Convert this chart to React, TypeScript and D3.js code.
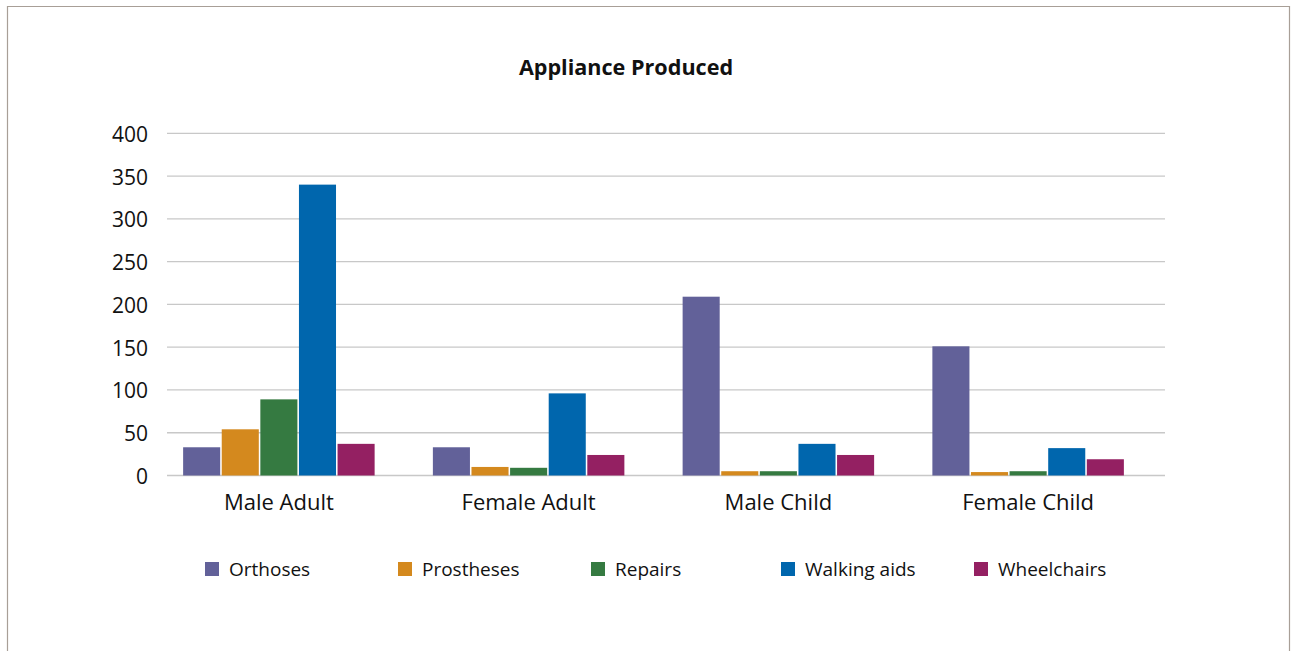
import React from "react";
import * as d3 from "d3";

const categories = ["Male Adult", "Female Adult", "Male Child", "Female Child"];
const seriesNames = ["Orthoses", "Prostheses", "Repairs", "Walking aids", "Wheelchairs"];
const orthoses = [33, 33, 209, 151];
const prostheses = [54, 10, 5, 4];
const repairs = [89, 9, 5, 5];
const walkingAids = [340, 96, 37, 32];
const wheelchairs = [37, 24, 24, 19];
const seriesColors = ["#626199", "#d4891e", "#357a41", "#0066ad", "#942062"];
const yTicks = [0, 50, 100, 150, 200, 250, 300, 350, 400];
const legendX = [205, 398, 591, 781, 974];

const seriesValues = [orthoses, prostheses, repairs, walkingAids, wheelchairs];

export default function App() {
  const W = 1292;
  const H = 651;
  const font = "'Open Sans', 'Noto Sans', sans-serif";
  const x = d3.scaleBand<string>().domain(categories).range([154, 1153]);
  const groupW = 191.5;
  const inner = d3
    .scaleBand<string>()
    .domain(seriesNames)
    .range([0, groupW])
    .paddingInner(0.04);
  const y = d3.scaleLinear().domain([0, 400]).range([475.5, 133.3]);

  return (
    <div style={{ position: "fixed", left: 0, top: 0 }}>
      <svg width={W} height={H} style={{ display: "block", background: "#fff" }}>
        <path d="M7.5,651 V6.5 H1289.5 V651" fill="none" stroke="#a89f97" strokeWidth={1.2} />
        <text
          x={626}
          y={75}
          textAnchor="middle"
          fontFamily={font}
          fontWeight={700}
          fontSize={21.6}
          fill="#111"
        >
          Appliance Produced
        </text>
        {yTicks.map((t) => (
          <g key={t}>
            <line x1={167} x2={1165} y1={y(t)} y2={y(t)} stroke="#c8c8c8" strokeWidth={1.3} />
            <text
              x={148}
              y={y(t) + 8.5}
              textAnchor="end"
              fontFamily={font}
              fontSize={21}
              fill="#111"
            >
              {t}
            </text>
          </g>
        ))}
        {categories.map((c, ci) => {
          const cx = (x(c) as number) + x.bandwidth() / 2;
          const x0 = cx - groupW / 2;
          return (
            <g key={c}>
              {seriesNames.map((s, si) => {
                const v = seriesValues[si][ci];
                return (
                  <rect
                    key={s}
                    x={x0 + (inner(s) as number)}
                    y={y(v)}
                    width={inner.bandwidth()}
                    height={y(0) - y(v)}
                    fill={seriesColors[si]}
                  />
                );
              })}
              <text
                x={cx}
                y={510}
                textAnchor="middle"
                fontFamily={font}
                fontSize={22}
                fill="#111"
              >
                {c}
              </text>
            </g>
          );
        })}
        {seriesNames.map((s, si) => (
          <g key={s}>
            <rect x={legendX[si]} y={562} width={14} height={14} fill={seriesColors[si]} />
            <text
              x={legendX[si] + 24}
              y={576}
              fontFamily={font}
              fontSize={19}
              fill="#111"
            >
              {s}
            </text>
          </g>
        ))}
      </svg>
    </div>
  );
}
